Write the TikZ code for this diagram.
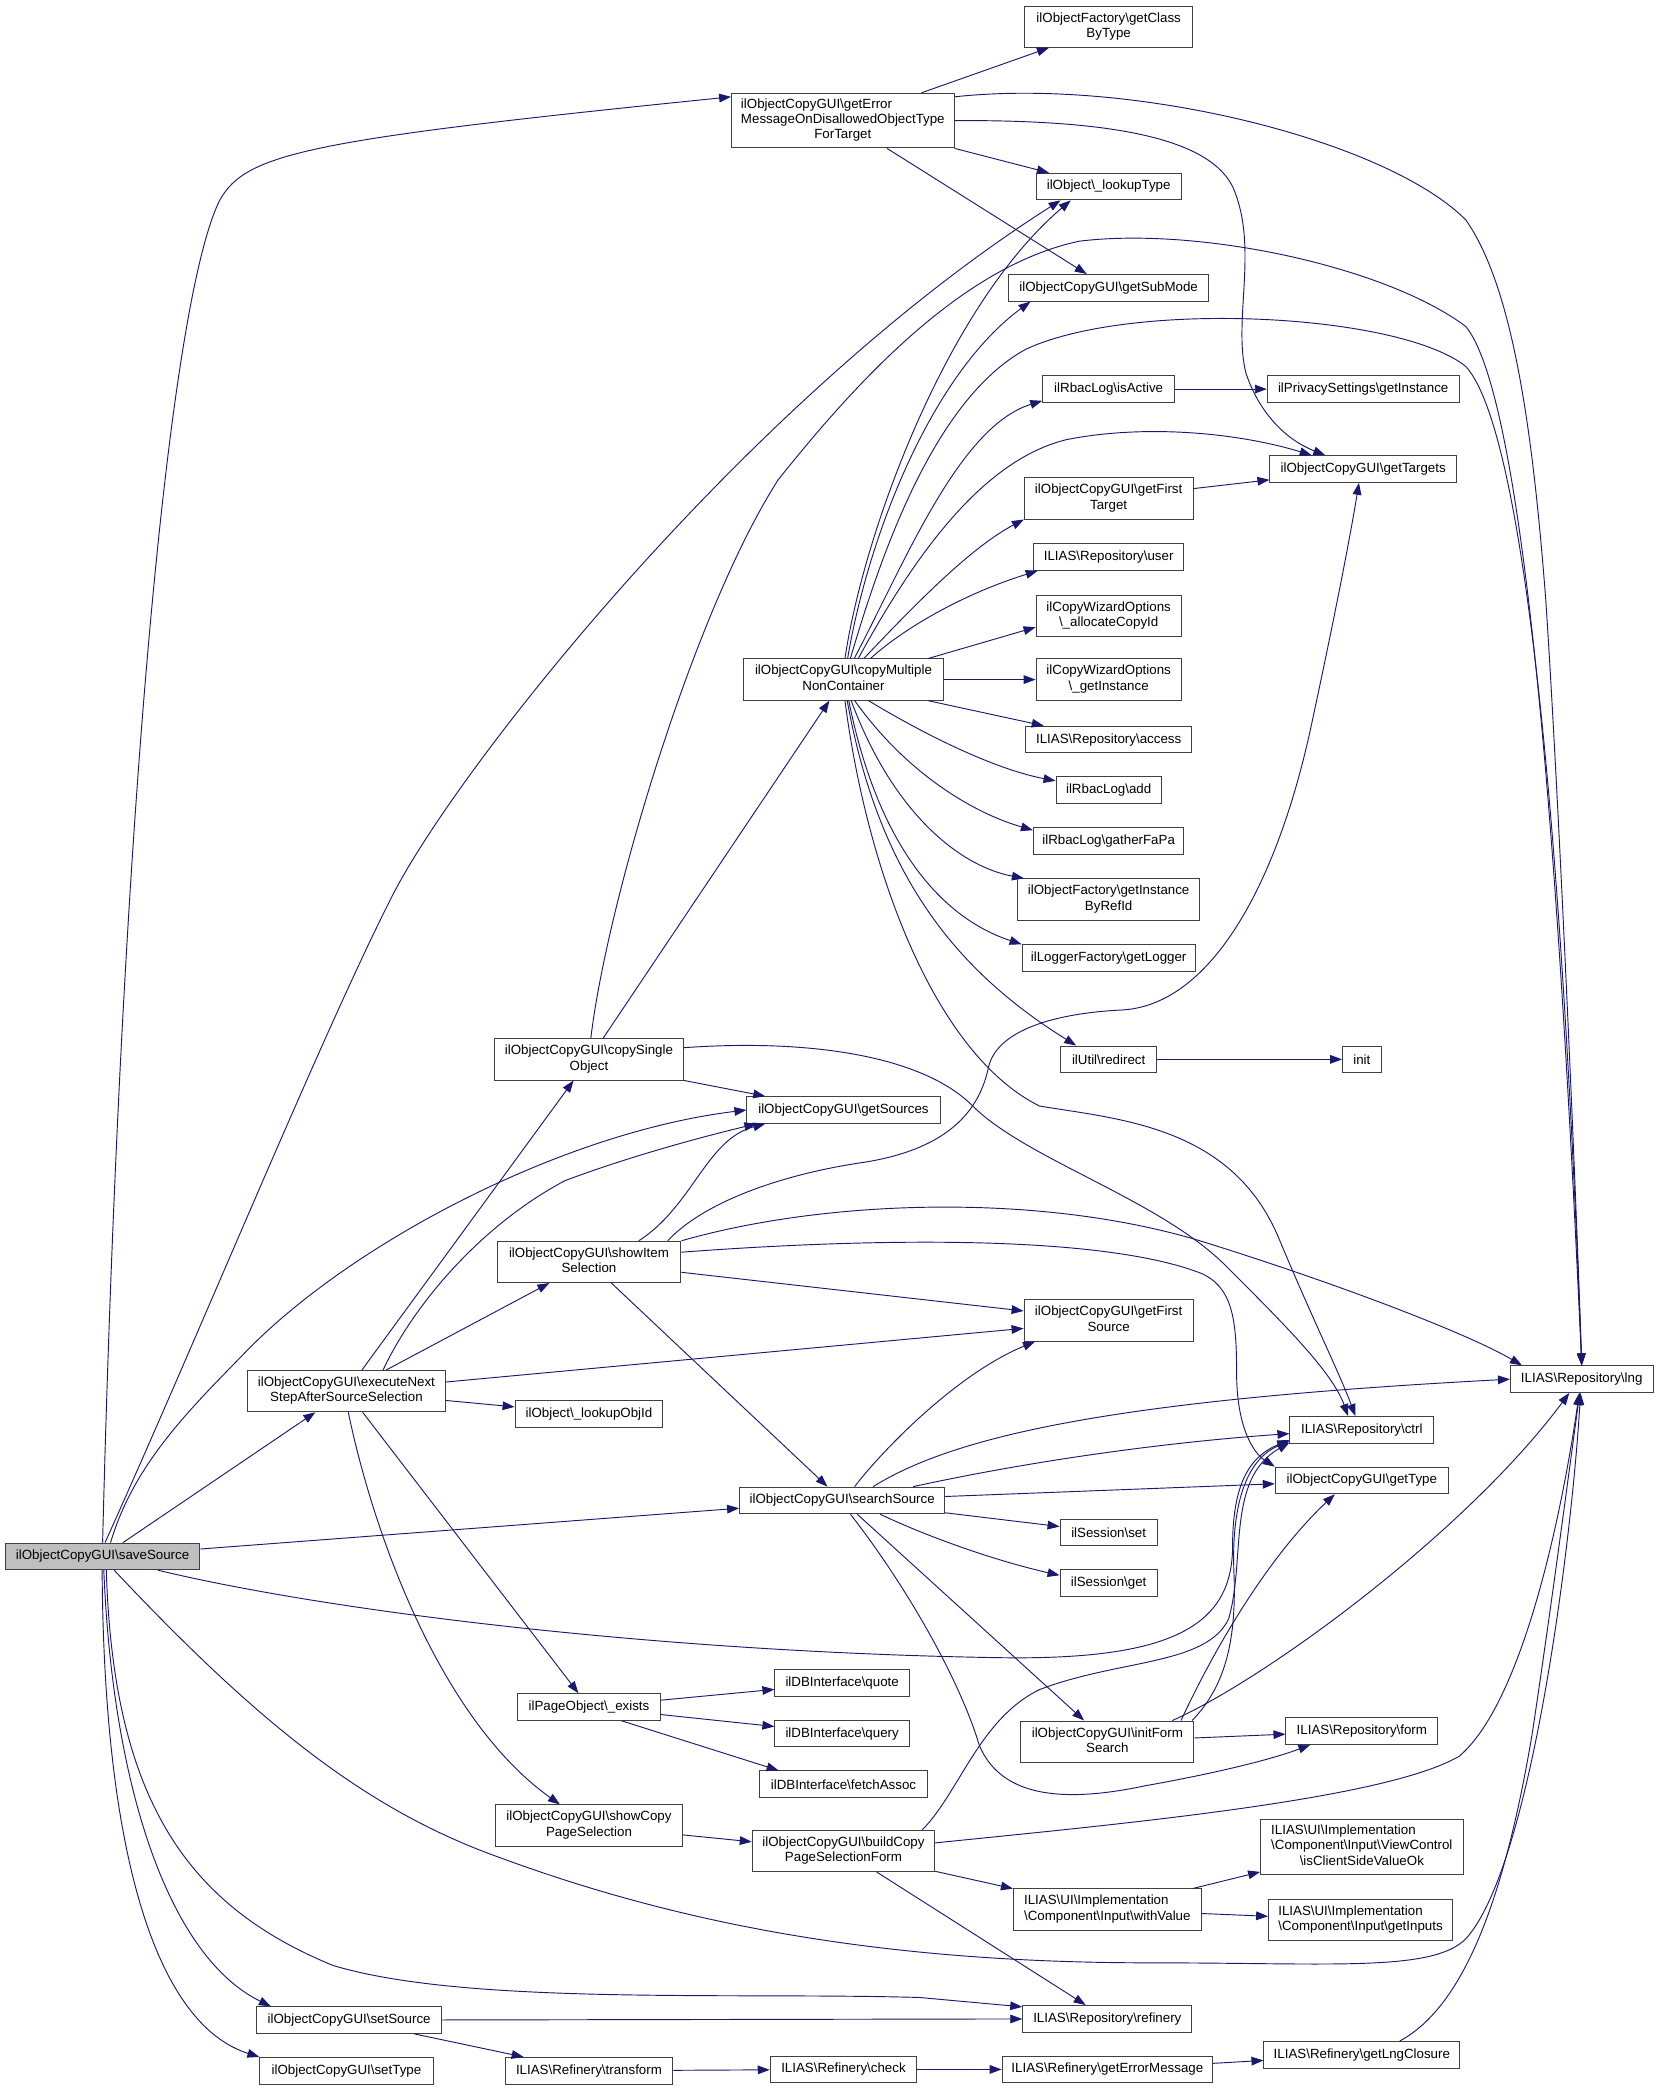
\documentclass[tikz,border=0pt]{standalone}
\usepackage{fontspec}
\setmainfont{Liberation Sans}
\usetikzlibrary{arrows.meta}
\definecolor{edgeblue}{HTML}{191970}
\definecolor{boxline}{HTML}{404040}
\definecolor{rootfill}{HTML}{BFBFBF}
\newcommand{\bksl}{\textbackslash}
\newcommand{\twoln}[2]{\begin{tabular}{@{}l@{}}#1\\\multicolumn{1}{@{}c@{}}{#2}\end{tabular}}
\newcommand{\threeln}[3]{\begin{tabular}{@{}l@{}}#1\\#2\\\multicolumn{1}{@{}c@{}}{#3}\end{tabular}}
\begin{document}
\begin{tikzpicture}[x=1pt, y=-1pt,
  fn/.style={draw=boxline, fill=white, line width=0.7pt, inner xsep=2pt, inner ysep=1pt,
    minimum height=20pt, font=\fontsize{10}{11.5}\selectfont},
  fn2/.style={fn, minimum height=31pt},
  fn3/.style={fn, minimum height=41pt},
  call/.style={draw=edgeblue, line width=0.7pt, -{Triangle[length=9pt, width=6.5pt]}}]

\fill[white] (0,0) rectangle (1245,1567.7);
\useasboundingbox (0,0) rectangle (1245,1567.7);

% ルート
\node[fn, fill=rootfill, minimum width=146pt] (S) at (77,1168) {ilObjectCopyGUI\bksl saveSource};

% 上段
\node[fn3, minimum width=167pt] (gerr) at (632.5,90.5) {\threeln{ilObjectCopyGUI\bksl getError}{MessageOnDisallowedObjectType}{ForTarget}};
\node[fn2, minimum width=126pt] (cbt) at (832,20) {\twoln{ilObjectFactory\bksl getClass}{ByType}};
\node[fn, minimum width=109pt] (lkt) at (832,140) {ilObject\bksl\_lookupType};
\node[fn, minimum width=150pt] (gsm) at (832,216) {ilObjectCopyGUI\bksl getSubMode};
\node[fn, minimum width=99pt] (isa) at (832,292) {ilRbacLog\bksl isActive};
\node[fn, minimum width=144pt] (psi) at (1023,292) {ilPrivacySettings\bksl getInstance};
\node[fn, minimum width=140pt] (gtg) at (1023,352) {ilObjectCopyGUI\bksl getTargets};
\node[fn2, minimum width=127pt] (gft) at (832,374) {\twoln{ilObjectCopyGUI\bksl getFirst}{Target}};
\node[fn, minimum width=113pt] (usr) at (832,418) {ILIAS\bksl Repository\bksl user};
\node[fn2, minimum width=109pt] (aci) at (832,462) {\twoln{ilCopyWizardOptions}{\bksl\_allocateCopyId}};
\node[fn2, minimum width=109pt] (cwi) at (832,510) {\twoln{ilCopyWizardOptions}{\bksl\_getInstance}};
\node[fn2, minimum width=150pt] (cmn) at (633,510) {\twoln{ilObjectCopyGUI\bksl copyMultiple}{NonContainer}};
\node[fn, minimum width=125pt] (acc) at (832,555) {ILIAS\bksl Repository\bksl access};
\node[fn, minimum width=79pt] (add) at (832,593) {ilRbacLog\bksl add};
\node[fn, minimum width=113pt] (gfp) at (832,631) {ilRbacLog\bksl gatherFaPa};
\node[fn2, minimum width=137pt] (gib) at (832,675) {\twoln{ilObjectFactory\bksl getInstance}{ByRefId}};
\node[fn, minimum width=130pt] (glg) at (832,719) {ilLoggerFactory\bksl getLogger};
\node[fn, minimum width=72pt] (red) at (832,795) {ilUtil\bksl redirect};
\node[fn, minimum width=29pt] (ini) at (1022,795) {init};

% 中段
\node[fn2, minimum width=142pt] (cso) at (442,795) {\twoln{ilObjectCopyGUI\bksl copySingle}{Object}};
\node[fn, minimum width=145pt] (gsr) at (633,833) {ilObjectCopyGUI\bksl getSources};
\node[fn2, minimum width=138pt] (sis) at (442,947) {\twoln{ilObjectCopyGUI\bksl showItem}{Selection}};
\node[fn2, minimum width=127pt] (gfs) at (832,991) {\twoln{ilObjectCopyGUI\bksl getFirst}{Source}};
\node[fn, minimum width=107pt] (lng) at (1187,1035) {ILIAS\bksl Repository\bksl lng};
\node[fn2, minimum width=149pt] (ens) at (260,1044) {\twoln{ilObjectCopyGUI\bksl executeNext}{StepAfterSourceSelection}};
\node[fn, minimum width=111pt] (loi) at (442,1061) {ilObject\bksl\_lookupObjId};
\node[fn, minimum width=108pt] (ctl) at (1022,1073) {ILIAS\bksl Repository\bksl ctrl};
\node[fn, minimum width=130pt] (gty) at (1022,1111) {ilObjectCopyGUI\bksl getType};
\node[fn, minimum width=154pt] (ssr) at (632,1126) {ilObjectCopyGUI\bksl searchSource};
\node[fn, minimum width=73pt] (sst) at (832,1150) {ilSession\bksl set};
\node[fn, minimum width=73pt] (sgt) at (832,1188) {ilSession\bksl get};

% 下段
\node[fn, minimum width=107pt] (pex) at (442,1281) {ilPageObject\bksl\_exists};
\node[fn, minimum width=101pt] (dbq) at (632,1263) {ilDBInterface\bksl quote};
\node[fn, minimum width=101pt] (dby) at (632,1301) {ilDBInterface\bksl query};
\node[fn, minimum width=126pt] (dbf) at (633,1339) {ilDBInterface\bksl fetchAssoc};
\node[fn2, minimum width=130pt] (ifs) at (831,1307) {\twoln{ilObjectCopyGUI\bksl initForm}{Search}};
\node[fn, minimum width=114pt] (frm) at (1022,1299) {ILIAS\bksl Repository\bksl form};
\node[fn2, minimum width=140pt] (scp) at (442,1370) {\twoln{ilObjectCopyGUI\bksl showCopy}{PageSelection}};
\node[fn2, minimum width=137pt] (bcp) at (633,1389) {\twoln{ilObjectCopyGUI\bksl buildCopy}{PageSelectionForm}};
\node[fn3, minimum width=152pt] (csv) at (1022,1386) {\threeln{ILIAS\bksl UI\bksl Implementation}{\bksl Component\bksl Input\bksl ViewControl}{\bksl isClientSideValueOk}};
\node[fn2, minimum width=141pt] (wvl) at (831,1433) {\twoln{ILIAS\bksl UI\bksl Implementation}{\bksl Component\bksl Input\bksl withValue}};
\node[fn2, minimum width=138pt] (gin) at (1021,1441) {\twoln{ILIAS\bksl UI\bksl Implementation}{\bksl Component\bksl Input\bksl getInputs}};
\node[fn, minimum width=127pt] (ref) at (831,1515) {ILIAS\bksl Repository\bksl refinery};
\node[fn, minimum width=139pt] (sso) at (262,1516) {ilObjectCopyGUI\bksl setSource};
\node[fn, minimum width=130pt] (sty) at (260,1554) {ilObjectCopyGUI\bksl setType};
\node[fn, minimum width=126pt] (rtf) at (442,1554) {ILIAS\bksl Refinery\bksl transform};
\node[fn, minimum width=110pt] (rck) at (633,1553) {ILIAS\bksl Refinery\bksl check};
\node[fn, minimum width=158pt] (rem) at (831,1553) {ILIAS\bksl Refinery\bksl getErrorMessage};
\node[fn, minimum width=147pt] (rlc) at (1022,1542) {ILIAS\bksl Refinery\bksl getLngClosure};

% saveSource から
\draw[call] (S.north) .. controls (90,640) and (125,230) .. (165,150) .. controls (185,115) and (230,105) .. (gerr.168);
\draw[call] (S.80) .. controls (150,1000) and (240,780) .. (293,675) .. controls (340,580) and (560,300) .. (lkt.196);
\draw[call] (S.60) .. controls (100,1100) and (140,1060) .. (182,1017) .. controls (260,935) and (420,850) .. (gsr.west);
\draw[call] (S) -- (ens);
\draw[call] (S) -- (ssr);
\draw[call] (S.-14) .. controls (250,1210) and (500,1240) .. (750,1244) .. controls (880,1246) and (925,1220) .. (925,1160) .. controls (925,1110) and (940,1092) .. (ctl.188);
\draw[call] (S.-50) .. controls (200,1300) and (280,1360) .. (375,1394) .. controls (500,1440) and (650,1473) .. (863,1473) .. controls (1000,1473) and (1075,1480) .. (1100,1455) .. controls (1150,1400) and (1180,1150) .. (lng.265);
\draw[call] (S.-75) .. controls (85,1350) and (140,1430) .. (250,1475) .. controls (350,1505) and (550,1495) .. (690,1499) -- (ref.172);
\draw[call] (S.-85) .. controls (85,1350) and (130,1470) .. (sso.170);
\draw[call] (S.-92) .. controls (78,1400) and (120,1520) .. (sty.171);

% getErrorMessageOnDisallowedObjectTypeForTarget から
\draw[call] (gerr) -- (cbt);
\draw[call] (gerr.12) .. controls (850,58) and (1040,105) .. (1100,165) .. controls (1135,215) and (1150,320) .. (1160,450) .. controls (1170,600) and (1183,900) .. (lng.north);
\draw[call] (gerr.east) .. controls (820,90) and (905,100) .. (925,140) .. controls (945,185) and (925,240) .. (935,280) .. controls (945,310) and (965,330) .. (gtg.160);
\draw[call] (gerr.south east) -- (lkt.167);
\draw[call] (gerr) -- (gsm);

% copyMultipleNonContainer から
\draw[call] (cmn.86) .. controls (648,400) and (710,230) .. (lkt.200);
\draw[call] (cmn.79) .. controls (652,400) and (700,280) .. (gsm.190);
\draw[call] (cmn.72) .. controls (660,420) and (700,300) .. (770,262) .. controls (850,225) and (1050,235) .. (1100,275) .. controls (1150,330) and (1175,700) .. (lng.north);
\draw[call] (cmn.63) .. controls (680,420) and (720,320) .. (isa.190);
\draw[call] (cmn.55) .. controls (690,410) and (740,345) .. (800,330) .. controls (860,318) and (930,325) .. (gtg.165);
\draw[call] (cmn.46) .. controls (690,450) and (730,410) .. (gft.194);
\draw[call] (cmn.38) .. controls (680,470) and (725,445) .. (usr.191);
\draw[call] (cmn.14) -- (aci.189);
\draw[call] (cmn) -- (cwi);
\draw[call] (cmn.-14) -- (acc.168);
\draw[call] (cmn.-40) .. controls (700,555) and (750,578) .. (add.170);
\draw[call] (cmn.-62) .. controls (680,580) and (730,610) .. (gfp.172);
\draw[call] (cmn.-70) .. controls (670,610) and (720,650) .. (gib.166);
\draw[call] (cmn.-76) .. controls (660,640) and (710,690) .. (glg.171);
\draw[call] (cmn.-80) .. controls (660,660) and (720,730) .. (red.157);
\draw[call] (cmn.-86) .. controls (650,650) and (700,790) .. (780,830) .. controls (840,840) and (925,845) .. (960,930) .. controls (985,990) and (1005,1030) .. (ctl.115);

% copySingleObject から
\draw[call] (cso) -- (cmn);
\draw[call] (cso.south east) -- (gsr.170);
\draw[call] (cso.85) .. controls (455,680) and (520,460) .. (584,360) .. controls (640,290) and (720,200) .. (810,181) .. controls (900,170) and (1040,200) .. (1100,245) .. controls (1145,300) and (1170,650) .. (lng.north);
\draw[call] (cso.7) .. controls (600,780) and (690,790) .. (730,830) .. controls (770,870) and (870,900) .. (920,950) .. controls (965,995) and (1000,1030) .. (ctl.135);

% showItemSelection から
\draw[call] (sis.23) .. controls (520,905) and (530,855) .. (gsr.190);
\draw[call] (sis.15) .. controls (525,905) and (580,882) .. (650,872) .. controls (710,862) and (735,835) .. (742,800) .. controls (750,770) and (800,760) .. (841,758) .. controls (910,755) and (960,660) .. (985,540) .. controls (1000,470) and (1012,410) .. (gtg.253);
\draw[call] (sis.north east) .. controls (620,900) and (780,895) .. (900,931) .. controls (1000,962) and (1100,1000) .. (lng.167);
\draw[call] (sis.6) .. controls (640,930) and (820,925) .. (900,955) .. controls (925,965) and (928,990) .. (928,1030) .. controls (928,1070) and (940,1090) .. (gty.171);
\draw[call] (sis) -- (gfs);
\draw[call] (sis) -- (ssr);

% executeNextStepAfterSourceSelection から
\draw[call] (ens) -- (cso);
\draw[call] (ens.30) .. controls (310,980) and (360,920) .. (424,886) .. controls (480,865) and (540,850) .. (gsr.189);
\draw[call] (ens) -- (sis);
\draw[call] (ens) -- (gfs);
\draw[call] (ens) -- (loi);
\draw[call] (ens) -- (pex);
\draw[call] (ens.-85) .. controls (280,1150) and (330,1290) .. (scp.144);

% searchSource から
\draw[call] (ssr.48) .. controls (665,1085) and (720,1030) .. (gfs.196);
\draw[call] (ssr.24) .. controls (720,1075) and (850,1050) .. (lng.west);
\draw[call] (ssr.11) .. controls (780,1095) and (880,1082) .. (ctl.183);
\draw[call] (ssr) -- (gty);
\draw[call] (ssr) -- (sst);
\draw[call] (ssr.-20) .. controls (700,1155) and (750,1172) .. (sgt.171);
\draw[call] (ssr) -- (ifs);
\draw[call] (ssr.-59) .. controls (680,1190) and (720,1260) .. (735,1310) .. controls (750,1345) and (790,1355) .. (860,1340) .. controls (900,1333) and (950,1322) .. (frm.195);

% initFormSearch から
\draw[call] (ifs) -- (frm);
\draw[call] (ifs.14) .. controls (920,1265) and (928,1230) .. (926,1180) .. controls (924,1130) and (935,1095) .. (ctl.189);
\draw[call] (ifs.16) .. controls (910,1240) and (950,1170) .. (gty.207);
\draw[call] (ifs.18) .. controls (950,1260) and (1100,1150) .. (lng.228);

% _exists, showCopyPageSelection
\draw[call] (pex) -- (dbq);
\draw[call] (pex) -- (dby);
\draw[call] (pex.-23) -- (dbf.168);
\draw[call] (scp) -- (bcp);

% buildCopyPageSelectionForm から
\draw[call] (bcp.15) .. controls (720,1345) and (735,1290) .. (780,1268) .. controls (840,1245) and (905,1250) .. (922,1215) .. controls (935,1170) and (920,1110) .. (ctl.190);
\draw[call] (bcp.5) .. controls (850,1368) and (1040,1350) .. (1095,1318) .. controls (1140,1280) and (1170,1150) .. (lng.260);
\draw[call] (bcp) -- (wvl);
\draw[call] (bcp) -- (ref);
\draw[call] (wvl) -- (csv);
\draw[call] (wvl) -- (gin);

% その他
\draw[call] (isa) -- (psi);
\draw[call] (gft) -- (gtg);
\draw[call] (red) -- (ini);
\draw[call] (sso) -- (ref);
\draw[call] (sso) -- (rtf);
\draw[call] (rtf) -- (rck);
\draw[call] (rck) -- (rem);
\draw[call] (rem) -- (rlc);
\draw[call] (rlc.20) .. controls (1100,1505) and (1130,1420) .. (1150,1300) .. controls (1165,1200) and (1178,1100) .. (lng.262);

\end{tikzpicture}
\end{document}
